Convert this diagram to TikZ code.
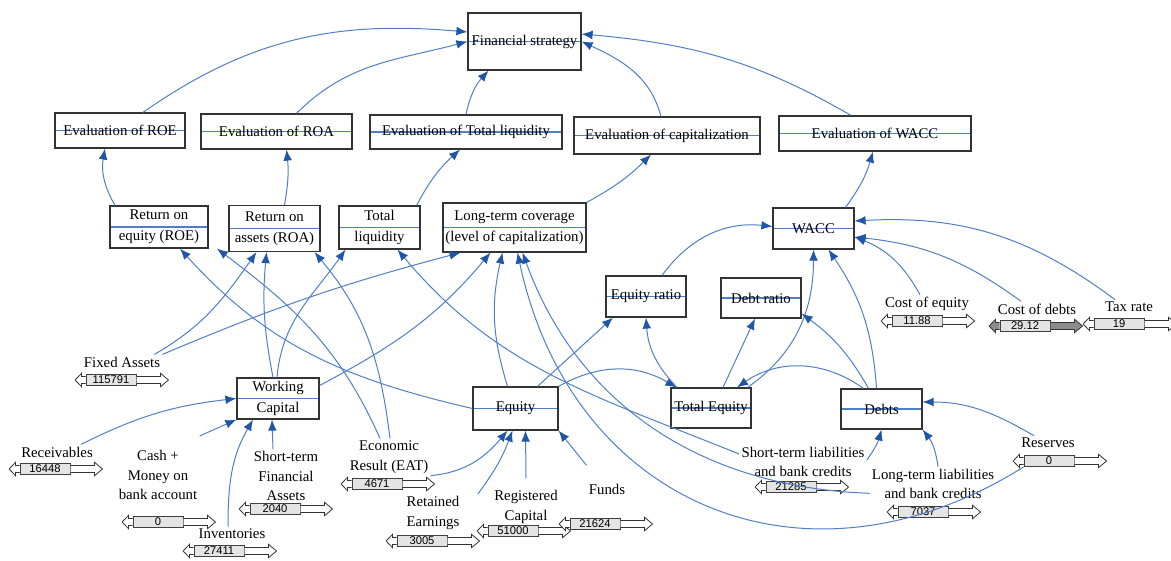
\documentclass[tikz,border=0pt]{standalone}
\usepackage{fontspec}
\setmainfont{Liberation Serif}
\setsansfont{Liberation Sans}
\usepackage{tikz}
\usetikzlibrary{arrows.meta}

\definecolor{linkblue}{HTML}{4F7FC6}
\definecolor{tipblue}{HTML}{1F56A8}
\definecolor{valgrey}{HTML}{E4E4E4}

\newcommand{\boxfont}{\fontsize{7.4}{10.5}\selectfont}
\newcommand{\lblfont}{\fontsize{7.4}{9.7}\selectfont}
\newcommand{\valfont}{\sffamily\fontsize{5.6}{6}\selectfont}

\tikzset{
  varbox/.style={draw=black!80, line width=0.6pt, fill=white, inner sep=1pt, align=center, font=\boxfont,
    path picture={\draw[linkblue, line width=0.6pt] (path picture bounding box.west) -- (path picture bounding box.east);}},
  lbl/.style={align=center, font=\lblfont, inner sep=1pt},
  valbox/.style={draw=black!75, line width=0.5pt, fill=valgrey, minimum width=25pt, minimum height=5.5pt, inner sep=0pt, font=\valfont},
  barline/.style={draw=black!80, line width=0.4pt},
  link/.style={draw=linkblue, line width=0.5pt, -{Latex[length=5.5pt,width=4.4pt,color=tipblue]}}
}

% value slider: #1 arrow fill, #2 name, #3 position, #4 value
\newcommand{\valuebar}[4][white]{%
  \node[valbox] (#2) at (#3) {#4};
  \draw[barline, fill=#1] ([yshift=1.75pt]#2.west) -- ++(-2pt,0) -- ++(0,1.6pt) -- ++(-3.2pt,-3.35pt) -- ++(3.2pt,-3.35pt) -- ++(0,1.6pt) -- ++(2pt,0);
  \draw[barline, fill=#1] ([yshift=1.75pt]#2.east) -- ++(12pt,0) -- ++(0,1.6pt) -- ++(4pt,-3.35pt) -- ++(-4pt,-3.35pt) -- ++(0,1.6pt) -- ++(-12pt,0);
}

\begin{document}
\begin{tikzpicture}[x=0.5pt,y=-0.5pt]
  \useasboundingbox (0,0) rectangle (1171,561);

  % boxes
  \node[varbox, minimum width=56.5pt, minimum height=28.5pt] (fs) at (524.5,41.5) {Financial strategy};
  \node[varbox, minimum width=65pt, minimum height=17.5pt] (eroe) at (120,130.5) {Evaluation of ROE};
  \node[varbox, minimum width=75.5pt, minimum height=17.5pt] (eroa) at (276.5,131.5) {Evaluation of ROA};
  \node[varbox, minimum width=96pt, minimum height=17pt] (etl) at (466,132) {Evaluation of Total liquidity};
  \node[varbox, minimum width=93pt, minimum height=18.5pt] (ecap) at (667,135.5) {Evaluation of capitalization};
  \node[varbox, minimum width=96pt, minimum height=17.5pt] (ewacc) at (875,133.5) {Evaluation of WACC};

  \node[varbox, minimum width=49pt, minimum height=21pt] (roe) at (159,227) {Return on\\equity (ROE)};
  \node[varbox, minimum width=45.5pt, minimum height=23pt] (roa) at (274.5,228.5) {Return on\\assets (ROA)};
  \node[varbox, minimum width=40.5pt, minimum height=21.5pt] (tliq) at (379.5,227.5) {Total\\liquidity};
  \node[varbox, minimum width=71.5pt, minimum height=24.5pt] (ltc) at (514.5,227.5) {Long-term coverage\\(level of capitalization)};
  \node[varbox, minimum width=40.5pt, minimum height=20.5pt] (wacc) at (813.5,228.5) {WACC};

  \node[varbox, minimum width=40pt, minimum height=20.5pt] (eqr) at (646,296.5) {Equity ratio};
  \node[varbox, minimum width=40pt, minimum height=20pt] (dbr) at (761,298) {Debt ratio};
  \node[varbox, minimum width=41pt, minimum height=20.5pt] (wc) at (278,398.5) {Working\\Capital};
  \node[varbox, minimum width=42.5pt, minimum height=21.5pt] (eq) at (515.5,408.5) {Equity};
  \node[varbox, minimum width=40pt, minimum height=20pt] (teq) at (711,408) {Total Equity};
  \node[varbox, minimum width=40.5pt, minimum height=20pt] (debts) at (881.5,409) {Debts};

  % constants
  \node[lbl] (fixed) at (122,362) {Fixed Assets};
  \valuebar{fixedv}{111,380}{115791}
  \node[lbl] (recv) at (57,452) {Receivables};
  \valuebar{recvv}{45,469}{16448}
  \node[lbl] (cash) at (158,475) {Cash +\\Money on\\bank account};
  \valuebar{cashv}{158,522}{0}
  \node[lbl] (invent) at (232,534) {Inventories};
  \valuebar{inventv}{219,551}{27411}
  \node[lbl] (stfin) at (286,476) {Short-term\\Financial\\Assets};
  \valuebar{stfinv}{275,509}{2040}
  \node[lbl] (eat) at (389,457) {Economic\\Result (EAT)};
  \valuebar{eatv}{377,484}{4671}
  \node[lbl] (retain) at (433,513) {Retained\\Earnings};
  \valuebar{retainv}{422,541}{3005}
  \node[lbl] (regcap) at (526,507) {Registered\\Capital};
  \valuebar{regcapv}{513,531}{51000}
  \node[lbl] (funds) at (607,489) {Funds};
  \valuebar{fundsv}{595,524}{21624}
  \node[lbl] (stliab) at (803,462) {Short-term liabilities\\and bank credits};
  \valuebar{stliabv}{791,487}{21285}
  \node[lbl] (ltliab) at (933,484) {Long-term liabilities\\and bank credits};
  \valuebar{ltliabv}{923,512}{7037}
  \node[lbl] (reserves) at (1048,443) {Reserves};
  \valuebar{reservesv}{1049,461}{0}
  \node[lbl] (costeq) at (927,304) {Cost of equity};
  \valuebar{costeqv}{917,321}{11.88}
  \node[lbl] (costdebt) at (1037,309) {Cost of debts};
  \valuebar[black!45]{costdebtv}{1025,326}{29.12}
  \node[lbl] (taxrate) at (1129,307) {Tax rate};
  \valuebar{taxratev}{1119,324}{19}

  % evaluations to strategy
  \draw[link] ([xshift=11.5pt]eroe.north) to[out=35,in=175] ([yshift=4.75pt]fs.west);
  \draw[link] ([xshift=10pt]eroa.north) to[out=45,in=195] (fs.west);
  \draw[link] (etl.north) to[bend left=15] ([xshift=-18pt]fs.south);
  \draw[link] ([xshift=-3pt]ecap.north) to[out=105,in=-25] (fs.east);
  \draw[link] ([xshift=-12pt]ewacc.north) to[out=150,in=-5] ([yshift=3.75pt]fs.east);

  % indicators to evaluations
  \draw[link] ([xshift=-22pt]roe.north) to[bend left=20] ([xshift=-7.5pt]eroe.south);
  \draw[link] ([xshift=5pt]roa.north) to[bend right=8] ([xshift=5pt]eroa.south);
  \draw[link] ([xshift=-2pt]tliq.north east) to[bend left=10] ([xshift=-3pt]etl.south);
  \draw[link] (ltc.north east) to[bend right=8] ([xshift=-8pt]ecap.south);
  \draw[link] ([xshift=16pt]wacc.north) to[bend right=10] ([xshift=-1pt]ewacc.south);

  % into the indicators
  \draw[link] (eq.west) to[out=167,in=-48] ([xshift=10.5pt]roe.south);
  \draw[link] ([xshift=-4.5pt]eat.north) to[out=114,in=-37] ([xshift=29pt]roe.south);
  \draw[link] ([xshift=-4pt]fixed.north east) to[out=30,in=-125] ([xshift=-9pt]roa.south);
  \draw[link] ([xshift=-2.5pt]wc.north) to[bend left=8] ([xshift=-4pt]roa.south);
  \draw[link] ([xshift=0.5pt]eat.north) to[out=97,in=-50] ([xshift=20pt]roa.south);
  \draw[link] ([xshift=-0.5pt]wc.north) to[out=85,in=-125] ([xshift=-17pt]tliq.south);
  \draw[link] ([yshift=4pt]stliab.west) to[out=158,in=-50] ([xshift=9pt]tliq.south);
  \draw[link] (fixed.north east) to[bend left=4] ([xshift=-27pt]ltc.south);
  \draw[link] ([yshift=6.5pt]wc.east) to[out=28,in=-130] ([xshift=-12pt]ltc.south);
  \draw[link] ([xshift=-4pt]eq.north) to[bend left=15] ([xshift=-6pt]ltc.south);
  \draw[link] (reservesv.south west) to[out=212,in=-78,looseness=1.2] ([xshift=1.5pt]ltc.south);
  \draw[link] ([yshift=4pt]ltliab.south west) to[out=178,in=-70] ([xshift=4pt]ltc.south);

  % debts
  \draw[link] ([xshift=2.5pt]ltliab.north) to[bend right=15] (debts.south east);
  \draw[link] ([yshift=1pt]stliab.east) to[bend right=10] (debts.south);
  \draw[link] ([xshift=-7pt]reserves.north) to[out=150,in=0] ([yshift=3.5pt]debts.east);

  % equity
  \draw[link] (eat.south east) to[out=5,in=-130] ([xshift=-4pt]eq.south);
  \draw[link] ([xshift=8pt]retain.north east) to[bend right=8] ([xshift=-1.5pt]eq.south);
  \draw[link] ([yshift=5pt]regcap.north) to ([xshift=5pt]eq.south);
  \draw[link] ([yshift=8pt]funds.north west) to (eq.south east);

  % ratios and WACC
  \draw[link] ([xshift=11pt]eq.north) to ([xshift=-16.5pt]eqr.south);
  \draw[link] (eq.north east) to[bend left=30] ([xshift=3pt]teq.north west);
  \draw[link] ([xshift=-17pt]teq.north) to[bend left=20] (eqr.south);
  \draw[link] ([xshift=6pt]teq.north) to ([xshift=-3pt]dbr.south);
  \draw[link] ([xshift=-2pt]teq.north east) to[out=35,in=-90] (wacc.south);
  \draw[link] ([xshift=-9pt]debts.north) to[bend right=35] ([xshift=13pt]teq.north);
  \draw[link] ([xshift=-6.5pt]debts.north) to[bend right=12] ([yshift=2.5pt]dbr.south east);
  \draw[link] ([xshift=-2.5pt]debts.north) to[bend right=15] ([xshift=7.5pt]wacc.south);
  \draw[link] ([xshift=8pt]eqr.north) to[bend left=30] ([yshift=1pt]wacc.west);
  \draw[link] ([xshift=-3.5pt]costeq.north) to[bend right=20] ([yshift=-4.25pt]wacc.east);
  \draw[link] ([xshift=-8pt]costdebt.north) to[bend right=15] ([yshift=-4.25pt]wacc.east);
  \draw[link] ([xshift=-7pt]taxrate.north) to[bend right=20] ([yshift=3.75pt]wacc.east);

  % working capital
  \draw[link] ([xshift=12pt]recv.north) to[bend left=10] (wc.west);
  \draw[link] ([yshift=6pt]cash.north east) to (wc.south west);
  \draw[link] ([xshift=-2pt]invent.north) to[out=90,in=-120] ([xshift=-12.5pt]wc.south);
  \draw[link] ([xshift=-6.5pt]stfin.north) to ([xshift=-3pt]wc.south);
\end{tikzpicture}
\end{document}
